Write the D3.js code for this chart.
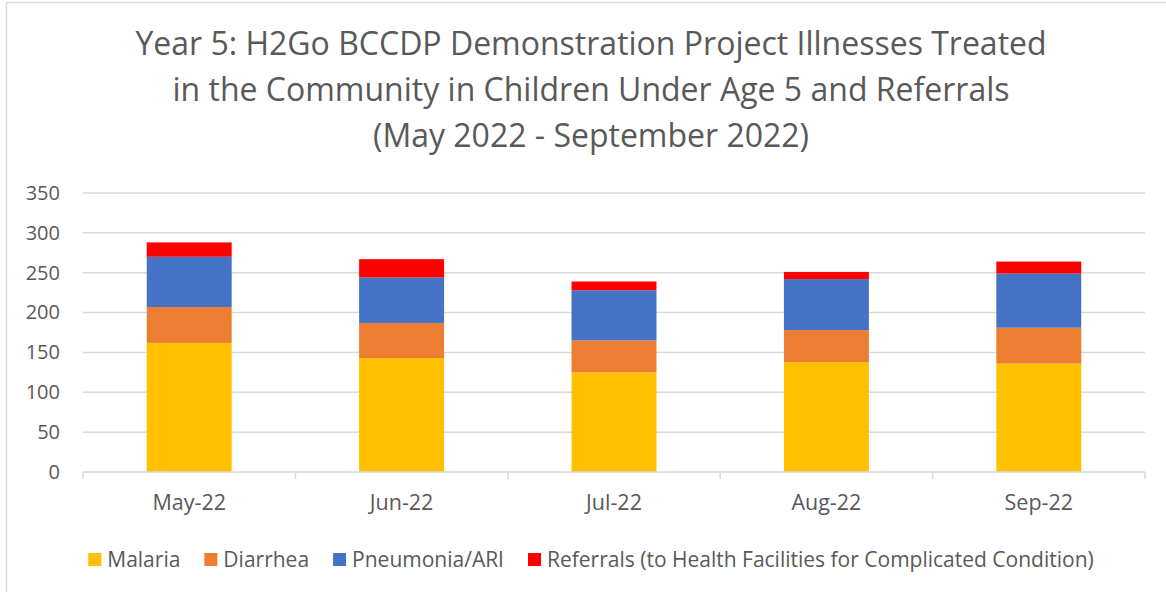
<!DOCTYPE html>
<html>
<head>
	<script src="https://cdn.jsdelivr.net/npm/d3@7/dist/d3.min.js"></script>
	<style>
		html, body {
			padding: 0;
			margin: 0;
			background: #fff;
		}
		text {
			font-family: "Open Sans", "Noto Sans", sans-serif;
			fill: #595959;
		}
	</style>
</head>
<body>
	<script>
		// ~ ~ ~ DATA ~ ~ ~
		const MONTHS = ["May-22", "Jun-22", "Jul-22", "Aug-22", "Sep-22"];
		const MALARIA = [162, 143, 125, 138, 136];
		const DIARRHEA = [45, 44, 40, 40, 45];
		const PNEUMONIA = [63, 57, 63, 64, 68];
		const REFERRALS = [18, 23, 11, 9, 15];
		const SERIES_NAMES = ["Malaria", "Diarrhea", "Pneumonia/ARI",
			"Referrals (to Health Facilities for Complicated Condition)"];
		const Y_TICKS = [0, 50, 100, 150, 200, 250, 300, 350];
		const TITLE_LINES = [
			"Year 5: H2Go BCCDP Demonstration Project Illnesses Treated",
			"in the Community in Children Under Age 5 and Referrals",
			"(May 2022 - September 2022)"
		];

		// ~ ~ ~ STYLE ~ ~ ~
		const COLORS = ["#FFC000", "#ED7D31", "#4472C4", "#FF0000"];
		const GRID_COLOR = "#d9d9d9";
		const WIDTH = 1166, HEIGHT = 592;
		const margin = { top: 193, right: 21, bottom: 120, left: 83 };
		const CENTER_X = 591;

		var svg = d3.select("body").append("svg")
			.attr("width", WIDTH)
			.attr("height", HEIGHT);

		// chart frame (runs past the right/bottom edge)
		svg.append("rect")
			.attr("x", 6.5).attr("y", 2.5)
			.attr("width", WIDTH + 20).attr("height", HEIGHT + 20)
			.attr("fill", "none")
			.attr("stroke", GRID_COLOR)
			.attr("stroke-width", 1.5);

		// title
		svg.append("g").selectAll("text")
			.data(TITLE_LINES)
			.enter().append("text")
			.attr("x", CENTER_X)
			.attr("y", (d, i) => 55 + i * 46)
			.attr("text-anchor", "middle")
			.style("font-size", "32px")
			.text(d => d);

		var plotW = WIDTH - margin.left - margin.right;
		var plotH = HEIGHT - margin.top - margin.bottom;
		var g = svg.append("g")
			.attr("transform", "translate(" + margin.left + "," + margin.top + ")");

		var x = d3.scaleBand()
			.domain(MONTHS)
			.range([0, plotW])
			.paddingInner(0.6)
			.paddingOuter(0.3);

		var y = d3.scaleLinear()
			.domain([0, 350])
			.range([plotH, 0]);

		// gridlines
		g.append("g").selectAll("line")
			.data(Y_TICKS.filter(d => d > 0))
			.enter().append("line")
			.attr("x1", 0).attr("x2", plotW)
			.attr("y1", d => y(d)).attr("y2", d => y(d))
			.attr("stroke", GRID_COLOR)
			.attr("stroke-width", 1.5);

		// y axis labels
		var yAxis = g.append("g")
			.call(d3.axisLeft(y).tickValues(Y_TICKS).tickSize(0).tickPadding(23));
		yAxis.select(".domain").remove();
		yAxis.selectAll("text")
			.style("font-size", "20px")
			.attr("fill", "#595959");

		// stacked bars
		var rows = MONTHS.map((m, i) => ({
			month: m,
			s0: MALARIA[i], s1: DIARRHEA[i], s2: PNEUMONIA[i], s3: REFERRALS[i]
		}));
		var stack = d3.stack().keys(["s0", "s1", "s2", "s3"])(rows);

		g.append("g").selectAll("g")
			.data(stack)
			.enter().append("g")
			.attr("fill", (d, i) => COLORS[i])
			.selectAll("rect")
			.data(d => d)
			.enter().append("rect")
			.attr("x", d => x(d.data.month))
			.attr("width", x.bandwidth())
			.attr("y", d => y(d[1]))
			.attr("height", d => y(d[0]) - y(d[1]));

		// x axis line + boundary ticks
		var step = x.step();
		var xAxis = g.append("g").attr("transform", "translate(0," + plotH + ")");
		xAxis.append("line")
			.attr("x1", 0).attr("x2", plotW)
			.attr("stroke", GRID_COLOR).attr("stroke-width", 1.5);
		xAxis.selectAll(".bnd")
			.data(d3.range(MONTHS.length + 1))
			.enter().append("line")
			.attr("class", "bnd")
			.attr("x1", d => Math.min(d * step, plotW)).attr("x2", d => Math.min(d * step, plotW))
			.attr("y1", 0).attr("y2", 7)
			.attr("stroke", GRID_COLOR).attr("stroke-width", 1.5);
		xAxis.selectAll(".lbl")
			.data(MONTHS)
			.enter().append("text")
			.attr("class", "lbl")
			.attr("x", d => x(d) + x.bandwidth() / 2)
			.attr("y", 38)
			.attr("text-anchor", "middle")
			.style("font-size", "21.5px")
			.text(d => d);

		// legend
		var legend = svg.append("g");
		var items = legend.selectAll("g")
			.data(SERIES_NAMES)
			.enter().append("g");
		items.append("rect")
			.attr("width", 13).attr("height", 13)
			.attr("y", 553)
			.attr("fill", (d, i) => COLORS[i]);
		items.append("text")
			.attr("x", 19)
			.attr("y", 567)
			.style("font-size", "21px")
			.text(d => d);
		var cursor = 0;
		items.each(function() {
			d3.select(this).attr("transform", "translate(" + cursor + ",0)");
			cursor += this.getBBox().width + 24;
		});
		var legendW = cursor - 24;
		legend.attr("transform", "translate(" + (CENTER_X - legendW / 2) + ",0)");
	</script>
</body>
</html>
